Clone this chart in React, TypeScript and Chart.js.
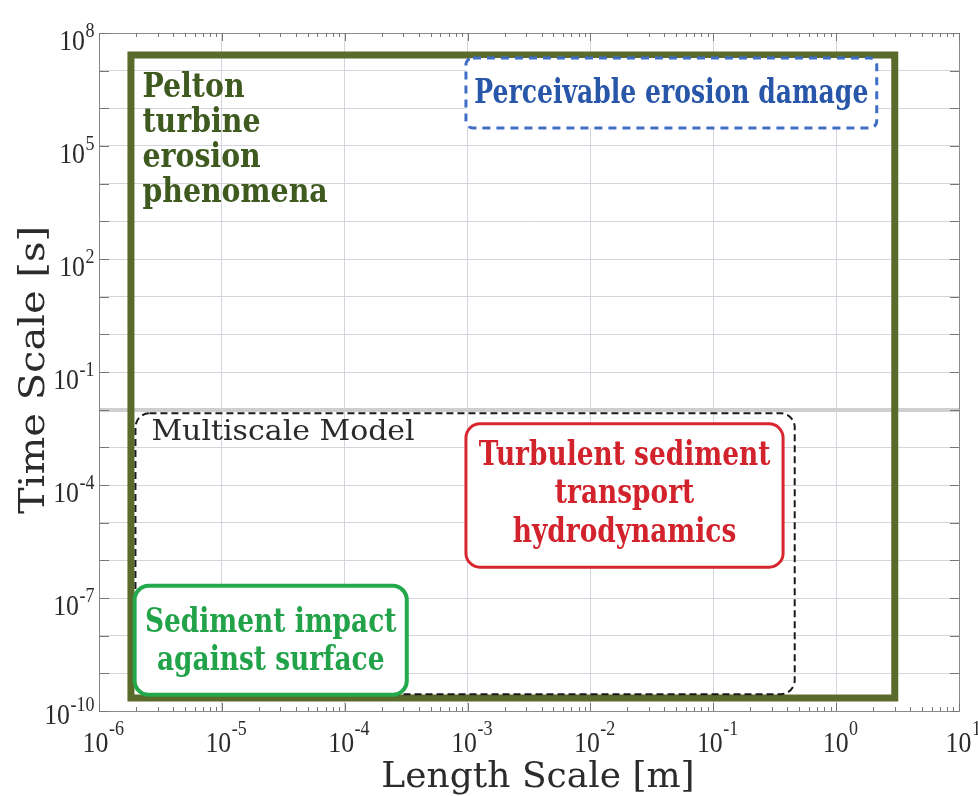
import { useEffect, useRef } from 'react';
import { Chart, registerables } from 'chart.js';

Chart.register(...registerables);

// Axis decades (powers of ten)
const xTickExponents = [-6, -5, -4, -3, -2, -1, 0, 1];
const yLabelExponents = [8, 5, 2, -1, -4, -7, -10];
const yGridExponents = [8, 7, 6, 5, 4, 3, 2, 1, 0, -1, -2, -3, -4, -5, -6, -7, -8, -9, -10];
const minorMultipliers = [2, 3, 4, 5, 6, 7, 8, 9];
const xAxisTitle = 'Length Scale [m]';
const yAxisTitle = 'Time Scale [s]';

// Regions of the length/time plane
const regionNames = ['Pelton turbine erosion phenomena', 'Perceivable erosion damage', 'Multiscale Model', 'Turbulent sediment transport hydrodynamics', 'Sediment impact against surface'];
const lengthMin = [1.82e-6, 9.7e-4, 1.98e-6, 9.7e-4, 1.95e-6];
const lengthMax = [3.0, 2.14, 0.46, 0.37, 3.2e-4];
const timeMin = [2.2e-10, 3.0e5, 2.8e-10, 6.6e-7, 2.7e-10];
const timeMax = [2.6e7, 2.17e7, 8.0e-3, 4.2e-3, 2.1e-7];
const regionLines = [
  ['Pelton', 'turbine', 'erosion', 'phenomena'],
  ['Perceivable erosion damage'],
  ['Multiscale Model'],
  ['Turbulent sediment', 'transport', 'hydrodynamics'],
  ['Sediment impact', 'against surface'],
];

type RegionStyle = {
  stroke: string; width: number; dash: number[]; radius: number; fill: string | null;
  text: string; font: string; sx: number; layout: 'topleft' | 'center'; dx: number; dy: number; lineGap: number;
};

const BOLD = 'bold 33px "DejaVu Serif", serif';
const regionStyles: RegionStyle[] = [
  { stroke: '#5a6a2a', width: 7, dash: [], radius: 0, fill: null, text: '#3e5a1f', font: BOLD, sx: 0.86, layout: 'topleft', dx: 11.5, dy: 42, lineGap: 35 },
  { stroke: '#3f6fc4', width: 3, dash: [8, 6], radius: 7, fill: '#ffffff', text: '#2856a8', font: BOLD, sx: 0.76, layout: 'center', dx: 0, dy: 10, lineGap: 0 },
  { stroke: '#1a1a1a', width: 2, dash: [7, 4], radius: 14, fill: null, text: '#2a2a2a', font: '28px "DejaVu Serif", serif', sx: 1.07, layout: 'topleft', dx: 16, dy: 27, lineGap: 0 },
  { stroke: '#d8262e', width: 3, dash: [], radius: 14, fill: '#ffffff', text: '#d2232c', font: BOLD, sx: 0.8, layout: 'center', dx: 0, dy: 8, lineGap: 38.5 },
  { stroke: '#23a84b', width: 4, dash: [], radius: 14, fill: '#ffffff', text: '#22a34a', font: BOLD, sx: 0.8, layout: 'center', dx: 0, dy: 10.5, lineGap: 38 },
];

const AXIS_GRAY = '#8a8a8a';
const TICK_GRAY = '#777777';
const LABEL_COLOR = '#2b2b2b';
const TITLE_FONT = '36px "DejaVu Serif", serif';

function drawScaledText(ctx: CanvasRenderingContext2D, text: string, x: number, y: number, sx: number, align: 'left' | 'center' | 'right') {
  const w = ctx.measureText(text).width * sx;
  let left = x;
  if (align === 'center') left = x - w / 2;
  else if (align === 'right') left = x - w;
  ctx.save();
  ctx.translate(left, y);
  ctx.scale(sx, 1);
  ctx.textAlign = 'left';
  ctx.textBaseline = 'alphabetic';
  ctx.fillText(text, 0, 0);
  ctx.restore();
  return w;
}

const BASE_FONT = '30px "Liberation Serif", serif';
const EXP_FONT = '20px "Liberation Serif", serif';
const BASE_SX = 0.86;

function powerWidths(ctx: CanvasRenderingContext2D, exp: number) {
  ctx.font = BASE_FONT;
  const wb = ctx.measureText('10').width * BASE_SX;
  ctx.font = EXP_FONT;
  const we = ctx.measureText(String(exp)).width * 0.9;
  return { wb, we };
}

function drawPower(ctx: CanvasRenderingContext2D, exp: number, left: number, baseY: number, expY: number) {
  const { wb } = powerWidths(ctx, exp);
  ctx.fillStyle = LABEL_COLOR;
  ctx.font = BASE_FONT;
  drawScaledText(ctx, '10', left, baseY, BASE_SX, 'left');
  ctx.font = EXP_FONT;
  drawScaledText(ctx, String(exp), left + wb + 0.5, expY, 0.9, 'left');
}

const axisDecor = {
  id: 'axisDecor',
  afterDraw(chart: Chart) {
    const { ctx, chartArea } = chart;
    const xs = chart.scales.x;
    const ys = chart.scales.y;
    const { left, right, top, bottom } = chartArea;
    ctx.save();
    // top and right frame
    ctx.strokeStyle = AXIS_GRAY;
    ctx.lineWidth = 1;
    ctx.beginPath();
    ctx.moveTo(left, top + 0.5);
    ctx.lineTo(right + 0.5, top + 0.5);
    ctx.lineTo(right + 0.5, bottom);
    ctx.stroke();

    // inward ticks on the length axis (major and minor, top and bottom)
    ctx.strokeStyle = TICK_GRAY;
    ctx.beginPath();
    xTickExponents.forEach((e, i) => {
      const px = Math.round(xs.getPixelForValue(Math.pow(10, e))) + 0.5;
      ctx.moveTo(px, top); ctx.lineTo(px, top + 8);
      ctx.moveTo(px, bottom); ctx.lineTo(px, bottom - 8);
      if (i < xTickExponents.length - 1) {
        minorMultipliers.forEach((m) => {
          const q = Math.round(xs.getPixelForValue(m * Math.pow(10, e))) + 0.5;
          ctx.moveTo(q, top); ctx.lineTo(q, top + 4);
          ctx.moveTo(q, bottom); ctx.lineTo(q, bottom - 4);
        });
      }
    });
    // inward ticks on the time axis (left and right)
    yGridExponents.forEach((e) => {
      const py = Math.round(ys.getPixelForValue(Math.pow(10, e))) + 0.5;
      ctx.moveTo(left, py); ctx.lineTo(left + 10, py);
      ctx.moveTo(right, py); ctx.lineTo(right - 9, py);
    });
    ctx.stroke();

    // power-of-ten tick labels
    xTickExponents.forEach((e) => {
      const px = xs.getPixelForValue(Math.pow(10, e));
      const { wb, we } = powerWidths(ctx, e);
      const total = wb + we;
      drawPower(ctx, e, px + 4 - total / 2, bottom + 41, bottom + 24);
    });
    yLabelExponents.forEach((e) => {
      const py = ys.getPixelForValue(Math.pow(10, e));
      const { wb, we } = powerWidths(ctx, e);
      const total = wb + we;
      const baseY = Math.min(py + 17, bottom + 13);
      drawPower(ctx, e, left - 5 - total, baseY, baseY - 13);
    });

    // axis titles
    ctx.fillStyle = LABEL_COLOR;
    ctx.font = TITLE_FONT;
    drawScaledText(ctx, xAxisTitle, (left + right) / 2 + 9, bottom + 76, 1.0, 'center');
    ctx.save();
    ctx.translate(44, (top + bottom) / 2 - 2);
    ctx.rotate(-Math.PI / 2);
    drawScaledText(ctx, yAxisTitle, 0, 0, 1.11, 'center');
    ctx.restore();
    ctx.restore();
  },
};

const regionPlugin = {
  id: 'regionBoxes',
  afterDatasetsDraw(chart: Chart) {
    const { ctx } = chart;
    ctx.save();
    chart.data.datasets.forEach((_ds, i) => {
      const meta = chart.getDatasetMeta(i);
      const a = meta.data[0] as any;
      const b = meta.data[1] as any;
      const x0 = Math.min(a.x, b.x);
      const x1 = Math.max(a.x, b.x);
      const y0 = Math.min(a.y, b.y);
      const y1 = Math.max(a.y, b.y);
      const st = regionStyles[i];
      ctx.beginPath();
      if (st.radius > 0) (ctx as any).roundRect(x0, y0, x1 - x0, y1 - y0, st.radius);
      else ctx.rect(x0, y0, x1 - x0, y1 - y0);
      if (st.fill) {
        ctx.fillStyle = st.fill;
        ctx.fill();
      }
      ctx.setLineDash(st.dash);
      ctx.lineWidth = st.width;
      ctx.strokeStyle = st.stroke;
      ctx.lineJoin = 'miter';
      ctx.stroke();
      ctx.setLineDash([]);

      ctx.fillStyle = st.text;
      ctx.font = st.font;
      const lines = regionLines[i];
      if (st.layout === 'topleft') {
        lines.forEach((ln, k) => {
          drawScaledText(ctx, ln, x0 + st.dx, y0 + st.dy + k * st.lineGap, st.sx, 'left');
        });
      } else {
        const cx = (x0 + x1) / 2 + st.dx;
        const cy = (y0 + y1) / 2 + st.dy;
        lines.forEach((ln, k) => {
          const y = cy + (k - (lines.length - 1) / 2) * st.lineGap;
          drawScaledText(ctx, ln, cx, y, st.sx, 'center');
        });
      }
    });
    ctx.restore();
  },
};

export default function App() {
  const canvasRef = useRef<HTMLCanvasElement | null>(null);

  useEffect(() => {
    document.body.style.margin = '0';
    const canvas = canvasRef.current;
    if (!canvas) return;
    const datasets = regionNames.map((name, i) => ({
      label: name,
      data: [
        { x: lengthMin[i], y: timeMin[i] },
        { x: lengthMax[i], y: timeMax[i] },
      ],
      pointRadius: 0,
      showLine: false,
    }));

    const chart = new Chart(canvas, {
      type: 'scatter',
      data: { datasets },
      options: {
        animation: false,
        responsive: false,
        devicePixelRatio: 1,
        layout: { padding: { top: 33, right: 19, left: 0, bottom: 0 } },
        plugins: { legend: { display: false }, tooltip: { enabled: false } },
        scales: {
          x: {
            type: 'logarithmic',
            min: 1e-6,
            max: 10,
            afterBuildTicks: (scale: any) => {
              scale.ticks = xTickExponents.map((e) => ({ value: Math.pow(10, e) }));
            },
            afterFit: (scale: any) => { scale.height = 85; },
            ticks: { display: false },
            grid: { color: '#d5d5de', lineWidth: 1, drawTicks: false },
            border: { color: AXIS_GRAY, width: 1 },
            title: { display: false, text: xAxisTitle },
          },
          y: {
            type: 'logarithmic',
            min: 1e-10,
            max: 1e8,
            afterBuildTicks: (scale: any) => {
              scale.ticks = yGridExponents.map((e) => ({ value: Math.pow(10, e) }));
            },
            afterFit: (scale: any) => { scale.width = 99; },
            ticks: { display: false },
            grid: {
              drawTicks: false,
              color: (c: any) => (Math.abs(Math.log10(c.tick.value) + 2) < 1e-9 ? '#cfcfcf' : '#d5d5de'),
              lineWidth: (c: any) => (Math.abs(Math.log10(c.tick.value) + 2) < 1e-9 ? 4 : 1),
            },
            border: { color: AXIS_GRAY, width: 1 },
            title: { display: false, text: yAxisTitle },
          },
        },
      },
      plugins: [regionPlugin, axisDecor],
    });
    return () => chart.destroy();
  }, []);

  return (
    <div style={{ width: 978, height: 796 }}>
      <canvas ref={canvasRef} width={978} height={796} style={{ display: 'block' }} />
    </div>
  );
}
